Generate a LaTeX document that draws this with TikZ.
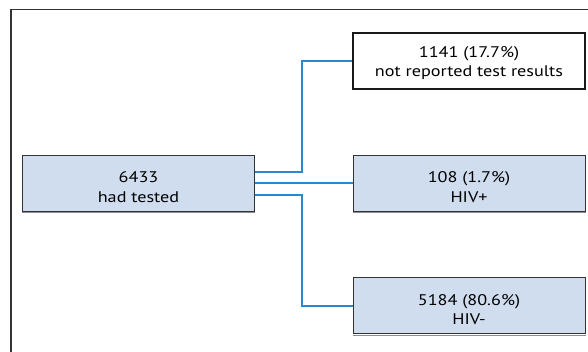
\documentclass[tikz,border=0pt]{standalone}
\usepackage{fontspec}
\setmainfont[FakeStretch=1.18]{PT Sans}
\definecolor{boxfill}{HTML}{D0DDEF}
\definecolor{connblue}{HTML}{2B88CC}
\definecolor{frameg}{HTML}{333333}
\begin{document}
\begin{tikzpicture}[x=1pt,y=1pt,
  txt/.style={align=center,font=\fontsize{15.4}{19.8}\selectfont,inner sep=0pt},
  bluebox/.style={draw=black!80,line width=1pt,fill=boxfill,minimum width=232pt,minimum height=56pt},
  whitebox/.style={draw=black!90,line width=1.8pt,fill=white,minimum width=232pt,minimum height=56pt},
  conn/.style={draw=connblue,line width=1.9pt}]
\useasboundingbox (0,0) rectangle (588,352);
\draw[frameg,line width=1.5pt] (11,-20) -- (11,342.5) -- (610,342.5);
\node[bluebox] (L) at (138.5,168.5) {};
\node[whitebox] (T) at (469,291) {};
\node[bluebox] (P) at (469,168.5) {};
\node[bluebox] (N) at (469,46) {};
\node[txt] (Lt) at ([yshift=-3.5pt]L.center) {6433\\had tested};
\node[txt] (Tt) at ([yshift=-2pt]T.center) {1141 (17.7\%)\\not reported test results};
\node[txt] (Pt) at ([yshift=-3.5pt]P.center) {108 (1.7\%)\\HIV+};
\node[txt] (Nt) at ([yshift=-3.5pt]N.center) {5184 (80.6\%)\\HIV-};
\foreach \bx in {L,P,N}{\draw[black!45,line width=0.8pt] ([yshift=-0.7pt]\bx.south west) -- ([yshift=-0.7pt]\bx.south east);}
\coordinate (jx) at (302,0);
\draw[conn] ([yshift=11.5pt]L.east) -| (jx |- T.west) -- (T.west);
\draw[conn] ([yshift=0.2pt]L.east) -- ([yshift=0.2pt]P.west);
\draw[conn] ([yshift=-11.5pt]L.east) -| (jx |- N.west) -- (N.west);
\end{tikzpicture}
\end{document}
